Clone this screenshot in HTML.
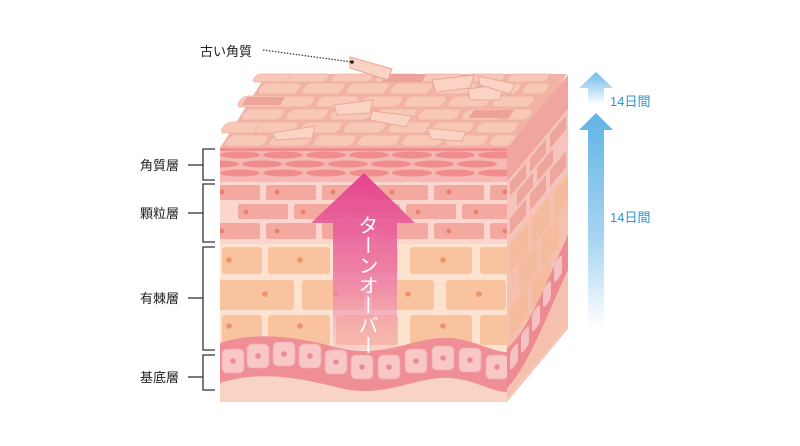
<!DOCTYPE html>
<html><head><meta charset="utf-8"><style>
body{margin:0;background:#fff;}
svg{display:block;}
text{font-family:"Liberation Sans","Noto Sans CJK JP",sans-serif;}
</style></head><body>
<svg width="800" height="446" viewBox="0 0 800 446" xmlns="http://www.w3.org/2000/svg">
<defs>
<linearGradient id="blue" x1="0" y1="0" x2="0" y2="1">
<stop offset="0" stop-color="#5fb4e6"/><stop offset="0.6" stop-color="#a9d6f2"/><stop offset="1" stop-color="#ffffff"/></linearGradient>
<linearGradient id="blue1" x1="0" y1="0" x2="0" y2="1">
<stop offset="0" stop-color="#6cbbe8"/><stop offset="1" stop-color="#ffffff"/></linearGradient>
<linearGradient id="pink" x1="0" y1="0" x2="0" y2="1">
<stop offset="0" stop-color="#e4428c"/><stop offset="0.6" stop-color="#ec7aa6" stop-opacity="0.85"/><stop offset="1" stop-color="#f3a9bf" stop-opacity="0.3"/></linearGradient>
<clipPath id="front"><rect x="220" y="148" width="287" height="254"/></clipPath>
</defs>

<!-- TOP FACE -->
<g transform="matrix(1,0,0.63,-1,220,148)">
<rect x="0" y="0" width="300" height="74" fill="#f2b3a5"/>
<g fill="#f7c7b8" stroke="#efb2a4" stroke-width="0.8">
<rect x="2" y="2" width="40" height="11" rx="5"/><rect x="46" y="2" width="40" height="11" rx="5"/><rect x="90" y="2" width="40" height="11" rx="5"/><rect x="134" y="2" width="40" height="11" rx="5"/><rect x="178" y="2" width="40" height="11" rx="5"/><rect x="222" y="2" width="40" height="11" rx="5"/><rect x="266" y="2" width="24" height="11" rx="5"/>
<rect x="-10" y="15" width="40" height="11" rx="5"/><rect x="24" y="15" width="40" height="11" rx="5"/><rect x="68" y="15" width="40" height="11" rx="5"/><rect x="112" y="15" width="40" height="11" rx="5"/><rect x="156" y="15" width="40" height="11" rx="5"/><rect x="200" y="15" width="40" height="11" rx="5"/><rect x="244" y="15" width="40" height="11" rx="5"/>
<rect x="2" y="28" width="40" height="11" rx="5"/><rect x="46" y="28" width="40" height="11" rx="5"/><rect x="90" y="28" width="40" height="11" rx="5"/><rect x="134" y="28" width="40" height="11" rx="5"/><rect x="178" y="28" width="40" height="11" rx="5"/><rect x="222" y="28" width="40" height="11" rx="5"/><rect x="266" y="28" width="24" height="11" rx="5"/>
<rect x="-10" y="41" width="40" height="11" rx="5"/><rect x="24" y="41" width="40" height="11" rx="5"/><rect x="68" y="41" width="40" height="11" rx="5"/><rect x="112" y="41" width="40" height="11" rx="5"/><rect x="156" y="41" width="40" height="11" rx="5"/><rect x="200" y="41" width="40" height="11" rx="5"/><rect x="244" y="41" width="40" height="11" rx="5"/>
<rect x="2" y="54" width="40" height="11" rx="5"/><rect x="46" y="54" width="40" height="11" rx="5"/><rect x="90" y="54" width="40" height="11" rx="5"/><rect x="134" y="54" width="40" height="11" rx="5"/><rect x="178" y="54" width="40" height="11" rx="5"/><rect x="222" y="54" width="40" height="11" rx="5"/><rect x="266" y="54" width="24" height="11" rx="5"/>
<rect x="-10" y="66" width="40" height="8" rx="4"/><rect x="24" y="66" width="40" height="8" rx="4"/><rect x="68" y="66" width="40" height="8" rx="4"/><rect x="112" y="66" width="40" height="8" rx="4"/><rect x="156" y="66" width="40" height="8" rx="4"/><rect x="200" y="66" width="40" height="8" rx="4"/><rect x="244" y="66" width="40" height="8" rx="4"/>
</g>
<rect x="-5" y="43" width="38" height="8" fill="#eea39a"/>
<rect x="120" y="66" width="40" height="8" fill="#eea39a"/>
<rect x="230" y="30" width="40" height="8" fill="#eea39a"/>
</g>
<!-- flakes on top -->
<g fill="#fad3c4" stroke="#eaa999" stroke-width="1">
<polygon points="272,133 315,126 312,138 276,140"/>
<polygon points="334,105 373,100 370,113 337,115"/>
<polygon points="372,111 412,116 406,127 370,120"/>
<polygon points="427,128 466,132 462,141 431,139"/>
<polygon points="432,80 474,75 470,88 436,92"/>
<polygon points="468,89 504,84 500,100 470,100"/>
<polygon points="478,76 515,84 510,94 480,85"/>
</g>

<!-- FRONT FACE -->
<g clip-path="url(#front)">
<rect x="220" y="148" width="287" height="254" fill="#f9d3c3"/>
<rect x="220" y="148" width="287" height="34" fill="#f6b8b2"/>
<rect x="220" y="148" width="287" height="3" fill="#ee8e90"/>
<g fill="#ee8c8e">
<ellipse cx="240" cy="155" rx="20" ry="3.5"/><ellipse cx="283" cy="155" rx="20" ry="3.5"/><ellipse cx="326" cy="155" rx="20" ry="3.5"/><ellipse cx="369" cy="155" rx="20" ry="3.5"/><ellipse cx="412" cy="155" rx="20" ry="3.5"/><ellipse cx="455" cy="155" rx="20" ry="3.5"/><ellipse cx="498" cy="155" rx="20" ry="3.5"/>
<ellipse cx="219" cy="164" rx="20" ry="3.5"/><ellipse cx="262" cy="164" rx="20" ry="3.5"/><ellipse cx="305" cy="164" rx="20" ry="3.5"/><ellipse cx="348" cy="164" rx="20" ry="3.5"/><ellipse cx="391" cy="164" rx="20" ry="3.5"/><ellipse cx="434" cy="164" rx="20" ry="3.5"/><ellipse cx="477" cy="164" rx="20" ry="3.5"/>
<ellipse cx="240" cy="173" rx="20" ry="3.5"/><ellipse cx="283" cy="173" rx="20" ry="3.5"/><ellipse cx="326" cy="173" rx="20" ry="3.5"/><ellipse cx="369" cy="173" rx="20" ry="3.5"/><ellipse cx="412" cy="173" rx="20" ry="3.5"/><ellipse cx="455" cy="173" rx="20" ry="3.5"/><ellipse cx="498" cy="173" rx="20" ry="3.5"/>
</g>
<rect x="220" y="182" width="287" height="62" fill="#fbd6cf"/>
<g fill="#f4a9a0">
<rect x="210" y="185" width="50" height="15" rx="2"/><rect x="266" y="185" width="50" height="15" rx="2"/><rect x="322" y="185" width="50" height="15" rx="2"/><rect x="378" y="185" width="50" height="15" rx="2"/><rect x="434" y="185" width="50" height="15" rx="2"/><rect x="490" y="185" width="50" height="15" rx="2"/>
<rect x="238" y="204" width="50" height="15" rx="2"/><rect x="294" y="204" width="50" height="15" rx="2"/><rect x="350" y="204" width="50" height="15" rx="2"/><rect x="406" y="204" width="50" height="15" rx="2"/><rect x="462" y="204" width="50" height="15" rx="2"/>
<rect x="210" y="223" width="50" height="16" rx="2"/><rect x="266" y="223" width="50" height="16" rx="2"/><rect x="322" y="223" width="50" height="16" rx="2"/><rect x="378" y="223" width="50" height="16" rx="2"/><rect x="434" y="223" width="50" height="16" rx="2"/><rect x="490" y="223" width="50" height="16" rx="2"/>
</g>
<g fill="#ec7e6e">
<circle cx="222" cy="192" r="2.5"/><circle cx="277" cy="192" r="2.5"/><circle cx="333" cy="192" r="2.5"/><circle cx="392" cy="192" r="2.5"/><circle cx="449" cy="192" r="2.5"/><circle cx="505" cy="192" r="2.5"/>
<circle cx="246" cy="212" r="2.5"/><circle cx="303" cy="212" r="2.5"/><circle cx="360" cy="212" r="2.5"/><circle cx="418" cy="212" r="2.5"/><circle cx="476" cy="212" r="2.5"/>
<circle cx="222" cy="231" r="2.5"/><circle cx="277" cy="231" r="2.5"/><circle cx="392" cy="231" r="2.5"/><circle cx="449" cy="231" r="2.5"/><circle cx="505" cy="231" r="2.5"/>
</g>
<rect x="220" y="244" width="287" height="110" fill="#fde2d0"/>
<g fill="#f9c39f">
<rect x="222" y="247" width="40" height="27" rx="3"/><rect x="268" y="247" width="62" height="27" rx="3"/><rect x="336" y="247" width="62" height="27" rx="3"/><rect x="410" y="247" width="62" height="27" rx="3"/><rect x="480" y="247" width="40" height="27" rx="3"/>
<rect x="205" y="280" width="40" height="30" rx="3"/><rect x="232" y="280" width="62" height="30" rx="3"/><rect x="302" y="280" width="62" height="30" rx="3"/><rect x="372" y="280" width="62" height="30" rx="3"/><rect x="446" y="280" width="60" height="30" rx="3"/>
<rect x="222" y="315" width="40" height="30" rx="3"/><rect x="268" y="315" width="62" height="30" rx="3"/><rect x="336" y="315" width="62" height="30" rx="3"/><rect x="410" y="315" width="62" height="30" rx="3"/><rect x="480" y="315" width="40" height="30" rx="3"/>
</g>
<g fill="#ef9464">
<circle cx="229" cy="260" r="2.8"/><circle cx="300" cy="260" r="2.8"/><circle cx="443" cy="260" r="2.8"/>
<circle cx="265" cy="294" r="2.8"/><circle cx="336" cy="294" r="2.8"/><circle cx="408" cy="294" r="2.8"/><circle cx="479" cy="294" r="2.8"/>
<circle cx="229" cy="326" r="2.8"/><circle cx="300" cy="326" r="2.8"/><circle cx="443" cy="326" r="2.8"/>
</g>
<path d="M220,343 C260,330 300,338 340,348 C380,358 410,340 440,338 C470,336 490,352 507,352 L507,392 C490,392 470,376 440,378 C410,380 380,398 340,388 C300,378 260,370 220,383 Z" fill="#ef8e95"/>
<g fill="#f8c7c6" stroke="#f3aab0" stroke-width="0.8">
<rect x="222" y="349" width="22" height="24" rx="5"/><rect x="247" y="344" width="22" height="24" rx="5"/><rect x="273" y="342" width="22" height="24" rx="5"/><rect x="299" y="344" width="22" height="24" rx="5"/><rect x="325" y="350" width="22" height="24" rx="5"/><rect x="351" y="355" width="22" height="24" rx="5"/><rect x="378" y="355" width="22" height="24" rx="5"/><rect x="405" y="349" width="22" height="24" rx="5"/><rect x="432" y="346" width="22" height="24" rx="5"/><rect x="459" y="348" width="22" height="24" rx="5"/><rect x="486" y="355" width="22" height="24" rx="5"/>
</g>
<g fill="#ec8a9b">
<circle cx="233" cy="361" r="2.8"/><circle cx="258" cy="356" r="2.8"/><circle cx="284" cy="354" r="2.8"/><circle cx="310" cy="356" r="2.8"/><circle cx="336" cy="362" r="2.8"/><circle cx="362" cy="367" r="2.8"/><circle cx="389" cy="367" r="2.8"/><circle cx="416" cy="361" r="2.8"/><circle cx="443" cy="358" r="2.8"/><circle cx="470" cy="360" r="2.8"/><circle cx="497" cy="367" r="2.8"/>
</g>
</g>

<!-- RIGHT FACE -->
<g transform="matrix(1,-1.2,0,1,507,148)">
<rect x="0" y="0" width="61" height="254" fill="#f6c0ae"/>
<rect x="0" y="0" width="61" height="34" fill="#f1a5a0"/>
<rect x="0" y="34" width="61" height="62" fill="#f6c4bc"/>
<g fill="#eea59c"><rect x="3" y="38" width="16" height="14"/><rect x="23" y="38" width="16" height="14"/><rect x="43" y="38" width="16" height="14"/><rect x="10" y="56" width="16" height="14"/><rect x="30" y="56" width="16" height="14"/><rect x="3" y="74" width="16" height="16"/><rect x="23" y="74" width="16" height="16"/><rect x="43" y="74" width="16" height="16"/></g>
<g fill="#f4bb9c"><rect x="3" y="100" width="18" height="28"/><rect x="25" y="100" width="18" height="28"/><rect x="47" y="100" width="14" height="28"/><rect x="12" y="132" width="18" height="28"/><rect x="34" y="132" width="18" height="28"/><rect x="3" y="164" width="18" height="28"/><rect x="25" y="164" width="18" height="28"/></g>
<path d="M0,200 C20,210 40,180 61,160 L61,195 C40,215 20,245 0,240 Z" fill="#ec8c92"/>
<g fill="#f6c1c2"><rect x="3" y="207" width="8" height="20" rx="3"/><rect x="14" y="203" width="8" height="20" rx="3"/><rect x="25" y="195" width="8" height="20" rx="3"/><rect x="36" y="184" width="8" height="20" rx="3"/><rect x="47" y="172" width="8" height="20" rx="3"/></g>
<rect x="0" y="250" width="61" height="4" fill="#f5c7b6"/>
</g>

<polygon points="350,57 392,69 388,80 350,68" fill="#fad3c4" stroke="#e8a595" stroke-width="1"/>
<line x1="263" y1="50" x2="352" y2="62" stroke="#333" stroke-width="1.2" stroke-dasharray="1.5,1.5"/>
<circle cx="352" cy="62" r="1.8" fill="#222"/>
<text x="200" y="56" font-size="13" fill="#222">古い角質</text>

<polygon points="364,173 415,223 397,223 397,350 333,350 333,223 311,223" fill="url(#pink)"/>
<text x="366" y="215" font-size="20" fill="#fff" style="writing-mode:vertical-rl;letter-spacing:0px">ターンオーバー</text>

<g stroke="#333" stroke-width="1.3" fill="none">
<path d="M215,149 H203 V180 H215"/><path d="M188,165 H203"/>
<path d="M215,184 H203 V242 H215"/><path d="M188,213 H203"/>
<path d="M215,247 H203 V350 H215"/><path d="M188,298 H203"/>
<path d="M215,355 H203 V390 H215"/><path d="M188,377 H203"/>
</g>
<g font-size="13" fill="#222">
<text x="140" y="170">角質層</text>
<text x="140" y="218">顆粒層</text>
<text x="140" y="303">有棘層</text>
<text x="140" y="382">基底層</text>
</g>

<polygon points="596,72 613,88 604,88 604,105 588,105 588,88 579,88" fill="url(#blue1)"/>
<polygon points="596,113 613,130 604,130 604,328 588,328 588,130 579,130" fill="url(#blue)"/>
<text x="610" y="106" font-size="13" fill="#2f95d0">14日間</text>
<text x="610" y="222" font-size="13" fill="#2f95d0">14日間</text>
</svg>
</body></html>
